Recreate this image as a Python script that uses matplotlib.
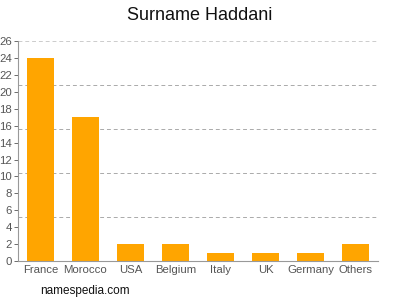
import matplotlib
matplotlib.use("Agg")
import matplotlib.pyplot as plt
import numpy as np

countries = ["France", "Morocco", "USA", "Belgium", "Italy", "UK", "Germany", "Others"]
counts = [24, 17, 2, 2, 1, 1, 1, 2]
yticks = list(range(0, 27, 2))

plt.rcParams["font.family"] = ["Liberation Sans", "DejaVu Sans"]

fig = plt.figure(figsize=(4, 3), dpi=100)
ax = fig.add_axes([0.045, 0.13, 0.9, 0.733])

x = np.arange(len(countries))
ax.bar(x, counts, width=0.62, color="#ffa500", zorder=2)

ax.set_xlim(-0.5, len(countries) - 0.5)
ax.set_ylim(0, 26)
ax.set_yticks(yticks)
ax.set_xticks(x)
ax.set_xticklabels(countries)
ax.tick_params(axis="both", labelsize=8.2, colors="#555555", length=3, width=0.6, pad=1.5)
ax.tick_params(axis="x", length=0, pad=3)

for g in np.linspace(0, 26, 6)[1:]:
    ax.axhline(g, color="#aaaaaa" if g < 26 else "#cccccc", lw=0.7, ls=(0, (4, 3)), zorder=1)

for s in ("top", "right"):
    ax.spines[s].set_visible(False)
for s in ("left", "bottom"):
    ax.spines[s].set_color("#999999")
    ax.spines[s].set_linewidth(0.8)

fig.text(0.5, 0.95, "Surname Haddani", ha="center", va="center", fontsize=13, color="#111111")
fig.text(0.1, 0.03, "namespedia.com", ha="left", va="center", fontsize=8.5, color="#111111")

fig.savefig("out.png", dpi=100)
